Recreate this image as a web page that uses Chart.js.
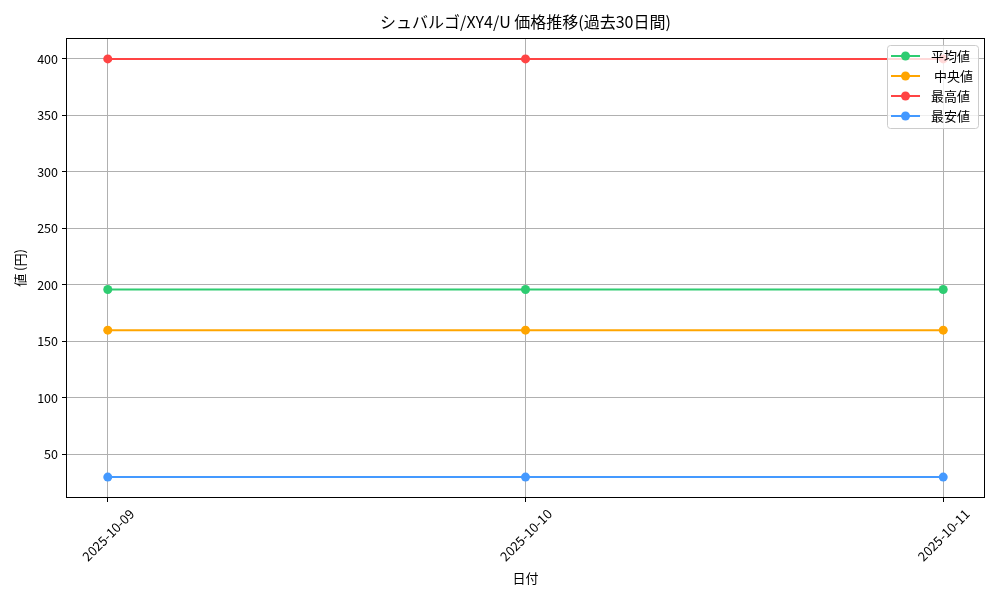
<!DOCTYPE html>
<html>
<head>
<meta charset="utf-8">
<script src="https://cdn.jsdelivr.net/npm/chart.js@4"></script>
<style>
  html, body { margin: 0; padding: 0; background: #fff; }
  #wrap { width: 1000px; height: 600px; }
</style>
</head>
<body>
<div id="wrap"><canvas id="c"></canvas></div>
<script>
const FONT = '"Noto Sans CJK JP", "DejaVu Sans", sans-serif';

const dates = ['2025-10-09', '2025-10-10', '2025-10-11'];
const avgVals = [196, 196, 196];
const medVals = [160, 160, 160];
const maxVals = [400, 400, 400];
const minVals = [30, 30, 30];
const yTicks = [50, 100, 150, 200, 250, 300, 350, 400];

const seriesNames = ['平均値', '中央値', '最高値', '最安値'];
const seriesColors = ['#2ecc71', '#ffa500', '#ff4444', '#4499ff'];
const seriesVals = [avgVals, medVals, maxVals, minVals];

const toPoints = vals => vals.map((v, i) => ({ x: i, y: v }));

// frame + title + legend inside plot, matplotlib style
const extras = {
  id: 'extras',
  afterDraw(chart) {
    const { ctx, chartArea: a } = chart;
    ctx.save();
    ctx.strokeStyle = '#000';
    ctx.lineWidth = 1;
    ctx.strokeRect(a.left + 0.5, a.top + 0.5, a.right - a.left - 1, a.bottom - a.top - 1);

    ctx.fillStyle = '#000';
    ctx.font = '16px ' + FONT;
    ctx.textAlign = 'center';
    ctx.textBaseline = 'middle';
    ctx.fillText('シュバルゴ/XY4/U 価格推移(過去30日間)', (a.left + a.right) / 2, 22);

    // legend
    const bx = 887, by = 45, bw = 91, bh = 83;
    ctx.fillStyle = 'rgba(255,255,255,0.8)';
    ctx.strokeStyle = '#cccccc';
    ctx.beginPath();
    ctx.roundRect(bx + 0.5, by + 0.5, bw, bh, 3);
    ctx.fill();
    ctx.stroke();
    ctx.font = '13px ' + FONT;
    ctx.textAlign = 'left';
    seriesNames.forEach((name, i) => {
      const y = by + 11 + i * 20;
      ctx.strokeStyle = seriesColors[i];
      ctx.lineWidth = 2;
      ctx.beginPath();
      ctx.moveTo(891, y);
      ctx.lineTo(920, y);
      ctx.stroke();
      ctx.fillStyle = seriesColors[i];
      ctx.beginPath();
      ctx.arc(905.5, y, 4.5, 0, Math.PI * 2);
      ctx.fill();
      ctx.fillStyle = '#000';
      ctx.fillText(name, i === 1 ? 934 : 931, y);
    });
    ctx.restore();
  }
};

new Chart(document.getElementById('c'), {
  type: 'line',
  data: {
    datasets: seriesNames.map((name, i) => ({
      label: name,
      data: toPoints(seriesVals[i]),
      borderColor: seriesColors[i],
      backgroundColor: seriesColors[i],
      borderWidth: 2,
      pointRadius: 4.5,
      pointHoverRadius: 4.5,
      pointBorderWidth: 0,
      tension: 0
    }))
  },
  options: {
    responsive: true,
    maintainAspectRatio: false,
    animation: false,
    layout: { padding: { top: 38, right: 15, left: 0, bottom: 0 } },
    plugins: { legend: { display: false }, tooltip: { enabled: false } },
    scales: {
      x: {
        type: 'linear',
        min: -0.1,
        max: 2.1,
        afterBuildTicks: s => { s.ticks = dates.map((d, i) => ({ value: i })); },
        afterFit: s => { s.height = 102; },
        ticks: {
          callback: v => dates[v],
          maxRotation: 45,
          minRotation: 45,
          color: '#000',
          font: { family: FONT, size: 13 },
          padding: 4,
          labelOffset: 24
        },
        grid: { color: '#b0b0b0', tickColor: '#000', tickLength: 4 },
        border: { display: false },
        title: { display: true, text: '日付', color: '#000', font: { family: FONT, size: 13 }, padding: { top: 0, bottom: 14 } }
      },
      y: {
        min: 11.5,
        max: 418.5,
        afterBuildTicks: s => { s.ticks = yTicks.map(v => ({ value: v })); },
        afterFit: s => { s.width = 66; },
        ticks: { color: '#000', font: { family: FONT, size: 12.5 }, padding: 4 },
        grid: { color: '#b0b0b0', tickColor: '#000', tickLength: 4 },
        border: { display: false },
        title: { display: true, text: '値 (円)', color: '#000', font: { family: FONT, size: 13 }, padding: { top: 12, bottom: 0 } }
      }
    }
  },
  plugins: [extras]
});
</script>
</body>
</html>
